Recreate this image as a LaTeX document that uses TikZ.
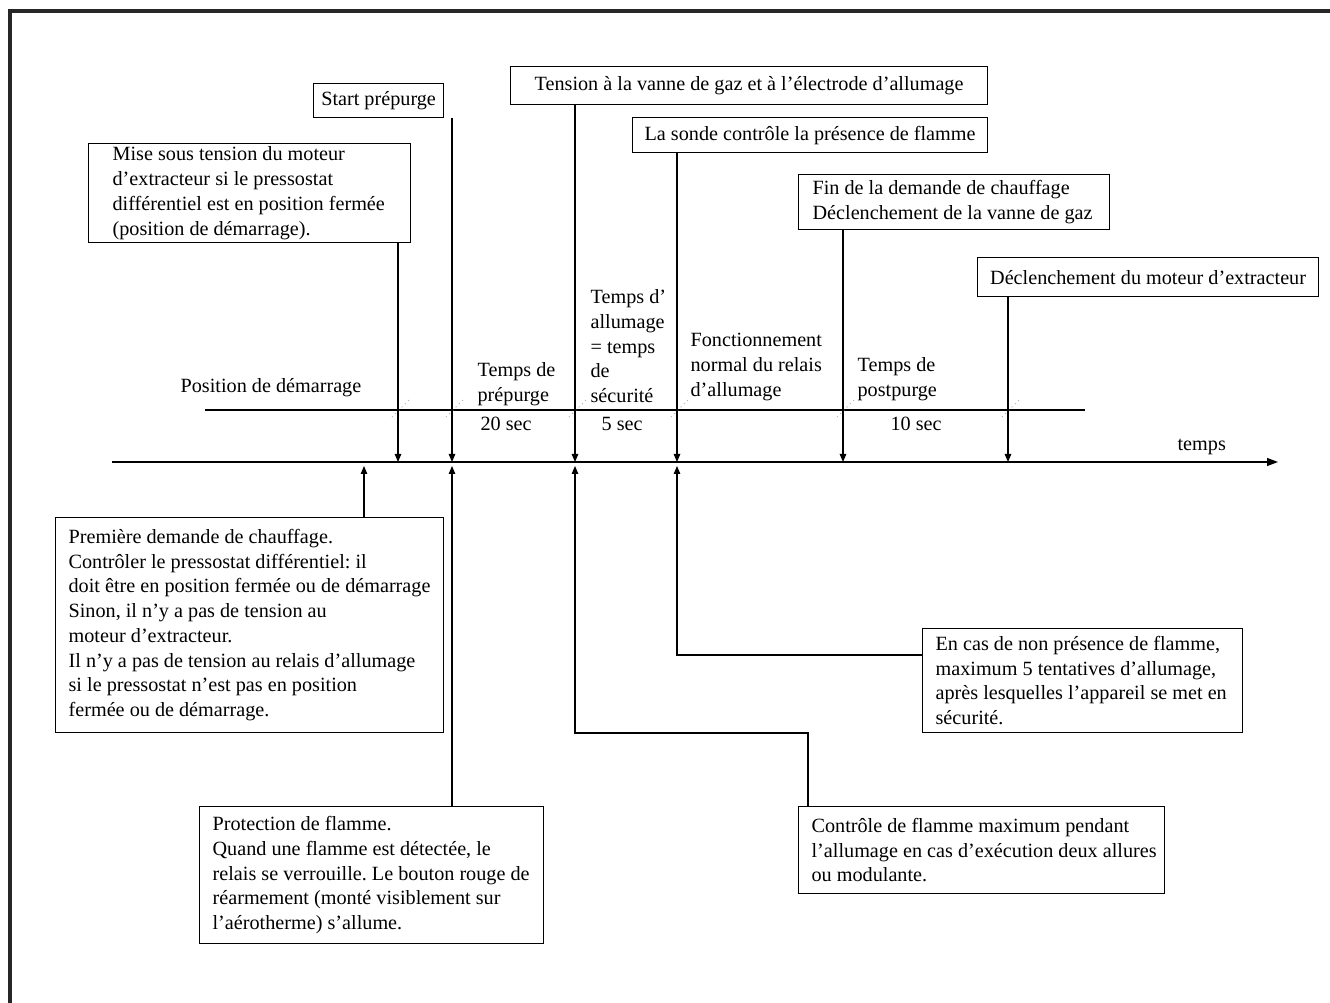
\documentclass[tikz,border=0pt]{standalone}
\usepackage{fontspec}
\setmainfont{Liberation Serif}
\usetikzlibrary{arrows.meta,positioning}

\begin{document}
\begin{tikzpicture}[
		x=0.02cm, y=-0.02cm, line width=0.7pt,
		every node/.style={font=\fontsize{11.5}{14.1}\selectfont\frenchspacing},
		callbox/.style={draw, anchor=north west, align=left, inner xsep=0.26cm, inner ysep=0pt,
			execute at begin node={\rightskip=-2em plus 1fil\spaceskip=0pt\xspaceskip=0pt\relax}},
		tagbox/.style={draw, anchor=north west, align=center, inner sep=0pt},
		lbl/.style={inner sep=0pt, align=left},
		arr/.style={-{Triangle[length=1.6mm,width=1.3mm]}},
		slash/.style={gray!60, dotted, line width=0.6pt}]
		\useasboundingbox (0,0) rectangle (1330,1003);
		\draw [line width=1.8pt, black!85] (1330,11) -- (10,11) -- (10,1003);
		% time axis and periods
		\coordinate (o) at (112,462);
		\coordinate (e) at (1278,462);
		\draw [-{Triangle[length=2.2mm,width=1.6mm]}] (o) -- (e);
		\draw (205,410) -- (1085,410);
		\foreach \n/\x in {a/398,b/452,c/575,d/677,e/843,f/1008} {
			\coordinate (t\n) at (\x,462);
			\coordinate (u\n) at (\x,466);
			\draw [slash] (\x-6,417) -- (\x+12,399);
		}
		\coordinate (u0) at (364,466);
		\coordinate (kc) at (575,733);
		\coordinate (kd) at (677,655);
		% boxes above
		\node [tagbox, minimum width=2.6cm, minimum height=0.68cm] (start) at (313,83) {Start prépurge};
		\node [callbox, inner xsep=0.48cm, text width=5.48cm, minimum height=1.98cm] (mise) at (88,143) {Mise sous tension du moteur\\ d’extracteur si le pressostat\\ différentiel est en position fermée\\ (position de démarrage).};
		\node [tagbox, minimum width=9.54cm, minimum height=0.76cm] (tension) at (510,66) {Tension à la vanne de gaz et à l’électrode d’allumage};
		\node [tagbox, minimum width=7.1cm, minimum height=0.7cm] (sonde) at (632,117) {La sonde contrôle la présence de flamme};
		\node [callbox, inner xsep=0.28cm, text width=5.66cm, minimum height=1.1cm] (fin) at (798,174) {Fin de la demande de chauffage\\ Déclenchement de la vanne de gaz};
		\node [tagbox, minimum width=6.82cm, minimum height=0.78cm] (moteur) at (977,257) {Déclenchement du moteur d’extracteur};
		% boxes below
		\node [callbox, text width=7.24cm, minimum height=4.3cm] (demande) at (55,517) {Première demande de chauffage.\\ Contrôler le pressostat différentiel: il\\ doit être en position fermée ou de démarrage\\ Sinon, il n’y a pas de tension au\\ moteur d’extracteur.\\ Il n’y a pas de tension au relais d’allumage\\ si le pressostat n’est pas en position\\ fermée ou de démarrage.};
		\node [callbox, text width=6.36cm, minimum height=2.74cm] (protection) at (199,806) {Protection de flamme.\\ Quand une flamme est détectée, le\\ relais se verrouille. Le bouton rouge de\\ réarmement (monté visiblement sur\\ l’aérotherme) s’allume.};
		\node [callbox, text width=5.88cm, minimum height=2.08cm] (absence) at (922,628) {En cas de non présence de flamme,\\ maximum 5 tentatives d’allumage,\\ après lesquelles l’appareil se met en\\ sécurité.};
		\node [callbox, text width=6.8cm, minimum height=1.74cm] (controle) at (798,806) {Contrôle de flamme maximum pendant\\ l’allumage en cas d’exécution deux allures\\ ou modulante.};
		% period labels
		\node [lbl, anchor=west] (posdem) at (180,388) {Position de démarrage};
		\node [lbl, anchor=north west] (prepurge) at (477,362) {Temps de\\ prépurge};
		\node [lbl, anchor=north west] (allumage) at (590,289) {Temps d’\\ allumage\\ = temps\\ de\\ sécurité};
		\node [lbl, anchor=north west] (normal) at (690,333) {Fonctionnement\\ normal du relais\\ d’allumage};
		\node [lbl, anchor=north west] (postpurge) at (857,357) {Temps de\\ postpurge};
		\node [lbl, anchor=west] (s20) at (480,424) {20 sec};
		\node [lbl, anchor=west] (s5) at (601,424) {5 sec};
		\node [lbl, anchor=west] (s10) at (890,424) {10 sec};
		\node [lbl, anchor=west] (temps) at (1177,447) {temps};
		% events
		\draw [arr] (mise.south -| ta) -- (ta);
		\draw [arr] (start.south -| tb) -- (tb);
		\draw [arr] (tension.south -| tc) -- (tc);
		\draw [arr] (sonde.south -| td) -- (td);
		\draw [arr] (fin.south -| te) -- (te);
		\draw [arr] (moteur.south -| tf) -- (tf);
		\draw [arr] (demande.north -| u0) -- (u0);
		\draw [arr] (protection.north -| ub) -- (ub);
		\draw [arr] ([xshift=0.2cm]controle.north west) |- (kc) -- (uc);
		\draw [arr] (absence.west |- kd) -- (kd) -- (ud);
\end{tikzpicture}
\end{document}
